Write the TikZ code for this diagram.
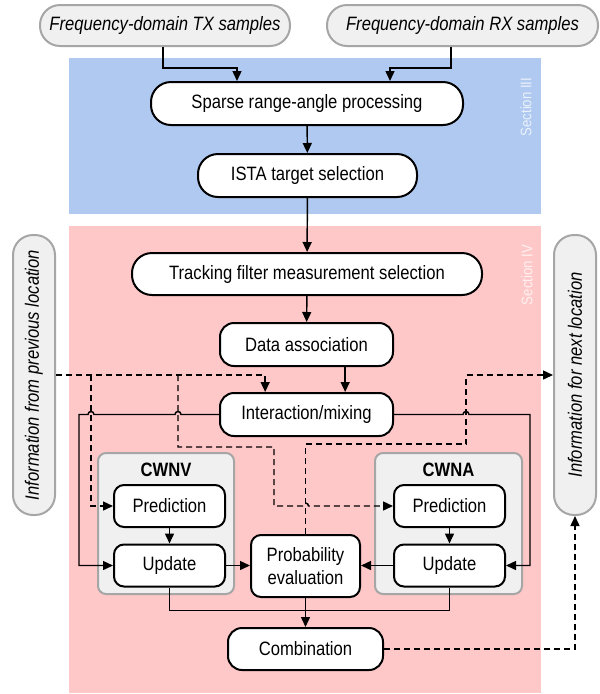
\documentclass[tikz,border=0pt]{standalone}
\usepackage{fontspec}
\setmainfont{Liberation Sans}[FakeStretch=0.86]
\usetikzlibrary{arrows.meta,calc}

\definecolor{secblue}{RGB}{175,201,240}
\definecolor{secpink}{RGB}{255,200,200}
\definecolor{pillfill}{RGB}{240,240,240}
\definecolor{pillline}{RGB}{166,166,166}

\begin{document}
\begin{tikzpicture}[x=0.75pt, y=-0.75pt,
  every node/.style={font=\fontsize{14.5}{17}\selectfont, inner sep=0pt},
  proc/.style={draw, line width=1.5pt, fill=white, rounded corners=10.5pt, minimum height=32.25pt},
  small/.style={proc, rounded corners=7.5pt, minimum width=83.25pt, minimum height=31.5pt},
  pill/.style={draw=pillline, fill=pillfill, line width=1.5pt, rounded corners=15pt, minimum height=30.75pt, font=\fontsize{14.5}{17}\selectfont\itshape},
  grp/.style={draw=pillline, fill=pillfill, line width=1.5pt, rounded corners=6pt},
  sectext/.style={rotate=90, font=\fontsize{11.5}{13}\selectfont, text=white, text opacity=0.75},
  arr/.style={line width=1.1pt, -{Triangle[length=7.5pt,width=6.75pt]}},
  line/.style={line width=1.1pt},
  dsh/.style={dash pattern=on 4.5pt off 3pt}]

\useasboundingbox (0,0) rectangle (600,694);

% sections
\fill[secblue] (69,58) rectangle (541,214);
\fill[secpink] (69,226) rectangle (541,693);
\node[sectext] (sec3) at (526,107) {Section III};
\node[sectext] (sec4) at (527,275) {Section IV};

% inputs and outputs
\node[pill, minimum width=187.5pt] (tx) at (165,25.5) {Frequency-domain TX samples};
\node[pill, minimum width=203.25pt] (rx) at (462.5,25.5) {Frequency-domain RX samples};
\node[pill, rotate=90, minimum width=210pt, minimum height=31.5pt] (prev) at (34,375) {Information from previous location};
\node[pill, rotate=90, minimum width=210pt, minimum height=31.5pt] (next) at (575,375) {Information for next location};

% main chain
\node[proc, rounded corners=15pt, minimum width=234pt] (sparse) at (307,103.5) {Sparse range-angle processing};
\node[proc, rounded corners=15pt, minimum width=164.25pt] (ista) at (307.5,175.5) {ISTA target selection};
\node[proc, rounded corners=15pt, minimum width=262.5pt, minimum height=31.5pt] (track) at (307,274) {Tracking filter measurement selection};
\node[proc, minimum width=129.75pt] (da) at (306.5,344.5) {Data association};
\node[proc, minimum width=129.75pt] (inter) at (306.5,414.5) {Interaction/mixing};

% model boxes
\node[grp, minimum width=102pt, minimum height=105.75pt] (cwnv) at (166,523.5) {};
\node[grp, minimum width=110.25pt, minimum height=105.75pt] (cwna) at (448.5,523.5) {};
\node[font=\fontsize{14.5}{17}\selectfont\bfseries] (cwnvt) at (166,470) {CWNV};
\node[font=\fontsize{14.5}{17}\selectfont\bfseries] (cwnat) at (448.5,470) {CWNA};

\node[small] (predL) at (169.5,506) {Prediction};
\node[small] (updL) at (169.5,565.5) {Update};
\node[small] (predR) at (449.5,506) {Prediction};
\node[small] (updR) at (449.5,565.5) {Update};
\node[small, minimum width=81.75pt, minimum height=46.5pt, align=center] (prob) at (305.5,566) {Probability\\evaluation};
\node[proc, minimum width=116.25pt, minimum height=31.5pt] (comb) at (305.5,649) {Combination};

\coordinate (br1) at (91,375);
\coordinate (br2) at (178,375);

% solid connectors
\draw[arr] ([xshift=-1.5pt]tx.south) -- ++(0,21) -| ([xshift=-52.5pt]sparse.north);
\draw[arr] ([xshift=-8.6pt]rx.south) -- ++(0,21) -| ([xshift=62.25pt]sparse.north);
\draw[arr] (sparse) -- (ista);
\draw[arr] (ista) -- (track);
\draw[arr] (track) -- (da);
\draw[arr] ([xshift=29pt]da.south) -- ([xshift=29pt]inter.north);
\draw[arr] (inter.west) -- (181,414.5) arc[start angle=0, end angle=180, radius=2.25pt]
  -- (94,414.5) arc[start angle=0, end angle=180, radius=2.25pt] -- (79,414.5) |- (updL.west);
\draw[arr] (inter.east) -- (463,414.5) arc[start angle=180, end angle=0, radius=2.25pt]
  -- (530,414.5) |- (updR.east);
\draw[arr] (predL) -- (updL);
\draw[arr] (predR) -- (updR);
\draw[arr] (updL.east) -- (updL.east -| prob.west);
\draw[arr] (updR.west) -- (updR.west -| prob.east);
\draw[line] (updL.south) -- ++(0,23) -| (updR.south);
\draw[arr] (prob) -- (comb);

% dashed connectors
\draw[arr, dsh] (prev.south) -| ([xshift=-31pt]inter.north);
\draw[arr, dsh] (br1) |- (predL.west);
\draw[arr, dsh] (br2) -- (178,447) -- (274,447) -- (274,506)
  -- (302.5,506) arc[start angle=180, end angle=0, radius=2.25pt] -- (predR.west);
\draw[arr, dsh] (prob.north) -- (305.5,444) -- (466,444) |- (next.north);
\draw[arr, dsh] (comb.east) -| (next.west);

\end{tikzpicture}
\end{document}
